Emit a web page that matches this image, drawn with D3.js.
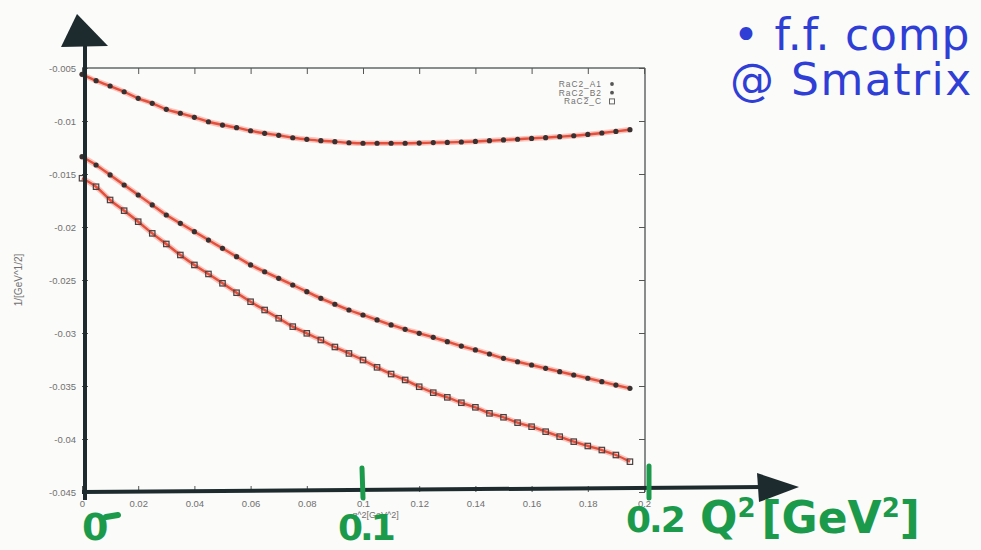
<!DOCTYPE html>
<html>
<head>
<meta charset="utf-8">
<script src="https://cdn.jsdelivr.net/npm/d3@7"></script>
<style>
  html, body { margin: 0; padding: 0; background: #fbfbf8; }
  svg { display: block; }
</style>
</head>
<body>
<script>
// ---- data ----
const q2 = [0, 0.005, 0.01, 0.015, 0.02, 0.025, 0.03, 0.035, 0.04, 0.045,
            0.05, 0.055, 0.06, 0.065, 0.07, 0.075, 0.08, 0.085, 0.09, 0.095,
            0.1, 0.105, 0.11, 0.115, 0.12, 0.125, 0.13, 0.135, 0.14, 0.145,
            0.15, 0.155, 0.16, 0.165, 0.17, 0.175, 0.18, 0.185, 0.19, 0.195];
const RaC2_A1 = [-0.0056, -0.0062, -0.0067, -0.00724, -0.00786, -0.00833, -0.0089, -0.00927, -0.00965, -0.01007,
                 -0.01038, -0.01063, -0.01092, -0.01116, -0.01135, -0.01158, -0.01173, -0.01186, -0.01195, -0.01205,
                 -0.0121, -0.0121, -0.0121, -0.0121, -0.01208, -0.01204, -0.01202, -0.01198, -0.01193, -0.01186,
                 -0.01179, -0.01172, -0.01164, -0.01157, -0.01148, -0.01139, -0.01127, -0.01113, -0.01098, -0.01082];
const RaC2_B2 = [-0.01337, -0.01415, -0.01509, -0.01604, -0.01698, -0.01792, -0.01887, -0.01965, -0.02044, -0.02123,
                 -0.02201, -0.0228, -0.02358, -0.02422, -0.02484, -0.02547, -0.0261, -0.02673, -0.02729, -0.02783,
                 -0.0283, -0.02877, -0.02924, -0.02965, -0.03003, -0.03041, -0.03082, -0.03123, -0.0316, -0.03198,
                 -0.03239, -0.03271, -0.03302, -0.03333, -0.03365, -0.03396, -0.03427, -0.03459, -0.03491, -0.03522];
const RaC2_C  = [-0.0154, -0.0162, -0.01745, -0.01846, -0.0195, -0.0206, -0.0216, -0.02264, -0.02358, -0.02443,
                 -0.02531, -0.0262, -0.02705, -0.02783, -0.02861, -0.0294, -0.03003, -0.03066, -0.03132, -0.03193,
                 -0.03255, -0.03324, -0.03387, -0.03443, -0.03507, -0.03563, -0.03607, -0.03658, -0.03701, -0.03758,
                 -0.03795, -0.03846, -0.03884, -0.03931, -0.03978, -0.04025, -0.04066, -0.04104, -0.04151, -0.04214];
const seriesNames = ["RaC2_A1", "RaC2_B2", "RaC2_C"];
const xTicks = [0, 0.02, 0.04, 0.06, 0.08, 0.1, 0.12, 0.14, 0.16, 0.18, 0.2];
const xTickLabels = ["0", "0.02", "0.04", "0.06", "0.08", "0.1", "0.12", "0.14", "0.16", "0.18", "0.2"];
const yTicks = [-0.005, -0.01, -0.015, -0.02, -0.025, -0.03, -0.035, -0.04, -0.045];
const yTickLabels = ["-0.005", "-0.01", "-0.015", "-0.02", "-0.025", "-0.03", "-0.035", "-0.04", "-0.045"];
const xAxisTitle = "-q^2[GeV^2]";
const yAxisTitle = "1/[GeV^1/2]";
const noteLines = ["\u2022 f.f. comp", "@ Smatrix"];
const greenLabels = ["0", "0.1", "0.2"];

// ---- drawing ----
const W = 981, H = 550;
const svg = d3.select("body").append("svg").attr("width", W).attr("height", H);
svg.append("rect").attr("width", W).attr("height", H).attr("fill", "#fbfbf9");

const x = d3.scaleLinear().domain([0, 0.2]).range([82, 644]);
const y = d3.scaleLinear().domain([-0.045, -0.005]).range([492, 68]);
const gray = "#707070";
const sans = "Liberation Sans, Arial, sans-serif";

// frame (top + right)
svg.append("line").attr("x1", x(0)).attr("x2", x(0.2) + 1).attr("y1", y(-0.005)).attr("y2", y(-0.005))
  .attr("stroke", "#5f6a6a").attr("stroke-width", 1.3);
svg.append("line").attr("x1", x(0.2) + 1).attr("x2", x(0.2) + 1).attr("y1", y(-0.005)).attr("y2", y(-0.045))
  .attr("stroke", "#4a5050").attr("stroke-width", 1.3);

// axes via d3
const xfmt = d => xTickLabels[xTicks.indexOf(d)];
const yfmt = d => yTickLabels[yTicks.indexOf(d)];
const styleAxis = g => {
  g.select(".domain").remove();
  g.selectAll(".tick line").attr("stroke", "#555").attr("stroke-width", 1);
  g.selectAll(".tick text").attr("fill", gray).attr("font-family", sans).attr("font-size", 9.5);
};
svg.append("g").attr("transform", `translate(0,${y(-0.045)})`)
  .call(d3.axisBottom(x).tickValues(xTicks).tickFormat(xfmt).tickSizeInner(-6).tickPadding(8))
  .call(styleAxis);
svg.append("g").attr("transform", `translate(0,${y(-0.005)})`)
  .call(d3.axisTop(x).tickValues(xTicks).tickFormat("").tickSizeInner(-6))
  .call(styleAxis);
svg.append("g").attr("transform", `translate(${x(0)},0)`)
  .call(d3.axisLeft(y).tickValues(yTicks).tickFormat(yfmt).tickSizeInner(-6).tickPadding(6))
  .call(styleAxis);
svg.append("g").attr("transform", `translate(${x(0.2) + 1},0)`)
  .call(d3.axisRight(y).tickValues(yTicks).tickFormat("").tickSizeInner(-6))
  .call(styleAxis);

// axis titles (gnuplot)
svg.append("text").attr("x", 374).attr("y", 518).attr("text-anchor", "middle")
  .attr("font-family", sans).attr("font-size", 9).attr("fill", gray)
  .text(xAxisTitle);
svg.append("text").attr("transform", "translate(22,280) rotate(-90)").attr("text-anchor", "middle")
  .attr("font-family", sans).attr("font-size", 10).attr("fill", gray)
  .text(yAxisTitle);

// fit lines + markers
const allSeries = [RaC2_A1, RaC2_B2, RaC2_C];
const line = d3.line().x((d, i) => x(q2[i])).y(d => y(d)).curve(d3.curveMonotoneX);
allSeries.forEach(vals => {
  svg.append("path").attr("d", line(vals)).attr("fill", "none")
    .attr("stroke", "#f4a196").attr("stroke-width", 5.5).attr("stroke-opacity", 0.6);
  svg.append("path").attr("d", line(vals)).attr("fill", "none")
    .attr("stroke", "#e4503c").attr("stroke-width", 2.4);
});
[RaC2_A1, RaC2_B2].forEach(vals => {
  svg.append("g").selectAll("circle").data(vals).join("circle")
    .attr("cx", (d, i) => x(q2[i])).attr("cy", d => y(d)).attr("r", 2.6)
    .attr("fill", "#3b3030");
});
svg.append("g").selectAll("rect").data(RaC2_C).join("rect")
  .attr("x", (d, i) => x(q2[i]) - 2.7).attr("y", d => y(d) - 2.7)
  .attr("width", 5.4).attr("height", 5.4)
  .attr("fill", "none").attr("stroke", "#4a4040").attr("stroke-width", 1.2);

// legend
const lg = svg.append("g");
seriesNames.forEach((n, i) => {
  const ly = 87 + i * 8.7;
  lg.append("text").attr("x", 602).attr("y", ly).attr("text-anchor", "end")
    .attr("font-family", sans).attr("font-size", 8.4).attr("letter-spacing", 1).attr("fill", gray)
    .text(n);
  if (i < 2) {
    lg.append("circle").attr("cx", 612).attr("cy", ly - 3).attr("r", 1.9).attr("fill", "#555");
  } else {
    lg.append("rect").attr("x", 609.5).attr("y", ly - 5.5).attr("width", 5).attr("height", 5)
      .attr("fill", "none").attr("stroke", "#666").attr("stroke-width", 1);
  }
});

// hand-drawn axes (thick, with arrowheads)
const ink = "#1d2b2f";
svg.append("line").attr("x1", 85).attr("x2", 85).attr("y1", 500).attr("y2", 40)
  .attr("stroke", ink).attr("stroke-width", 4);
svg.append("path").attr("d", "M77,14 L61,47 L108,46 Z").attr("fill", ink);
svg.append("line").attr("x1", 82).attr("x2", 765).attr("y1", 492).attr("y2", 487)
  .attr("stroke", ink).attr("stroke-width", 4);
svg.append("path").attr("d", "M757,473 L799,487 L759,502 Z").attr("fill", ink);

// green annotations
const green = "#1c9a4c";
svg.append("line").attr("x1", 362).attr("x2", 363).attr("y1", 468).attr("y2", 498)
  .attr("stroke", green).attr("stroke-width", 5).attr("stroke-linecap", "round");
svg.append("line").attr("x1", 649).attr("x2", 649).attr("y1", 466).attr("y2", 498)
  .attr("stroke", green).attr("stroke-width", 5).attr("stroke-linecap", "round");
const gfont = "DejaVu Sans, sans-serif";
svg.append("text").attr("x", 82).attr("y", 540).attr("font-family", gfont).attr("font-weight", "bold")
  .attr("font-size", 38).attr("fill", green).text(greenLabels[0]);
svg.append("line").attr("x1", 106).attr("x2", 118).attr("y1", 517).attr("y2", 515)
  .attr("stroke", green).attr("stroke-width", 6).attr("stroke-linecap", "round");
svg.append("text").attr("x", 338).attr("y", 540).attr("font-family", gfont).attr("font-weight", "bold")
  .attr("font-size", 36).attr("fill", green).attr("letter-spacing", -3).text(greenLabels[1]);
svg.append("text").attr("x", 626).attr("y", 532).attr("font-family", gfont).attr("font-weight", "bold")
  .attr("font-size", 36).attr("fill", green).attr("letter-spacing", -2).text(greenLabels[2]);
const qt = svg.append("text").attr("x", 700).attr("y", 533).attr("font-family", gfont).attr("font-weight", "bold")
  .attr("font-size", 44).attr("fill", green);
qt.append("tspan").text("Q");
qt.append("tspan").attr("dy", -16).attr("font-size", 26).text("2");
qt.append("tspan").attr("dy", 16).attr("dx", 6).text("[GeV");
qt.append("tspan").attr("dy", -16).attr("font-size", 26).text("2");
qt.append("tspan").attr("dy", 16).text("]");

// blue annotations
const blue = "#2f3fd6";
svg.append("text").attr("x", 733).attr("y", 50).attr("font-family", gfont)
  .attr("font-size", 44).attr("fill", blue).attr("letter-spacing", 0.8).text(noteLines[0]);
svg.append("text").attr("x", 730).attr("y", 95).attr("font-family", gfont)
  .attr("font-size", 44).attr("fill", blue).attr("letter-spacing", 1.5).text(noteLines[1]);
</script>
</body>
</html>
